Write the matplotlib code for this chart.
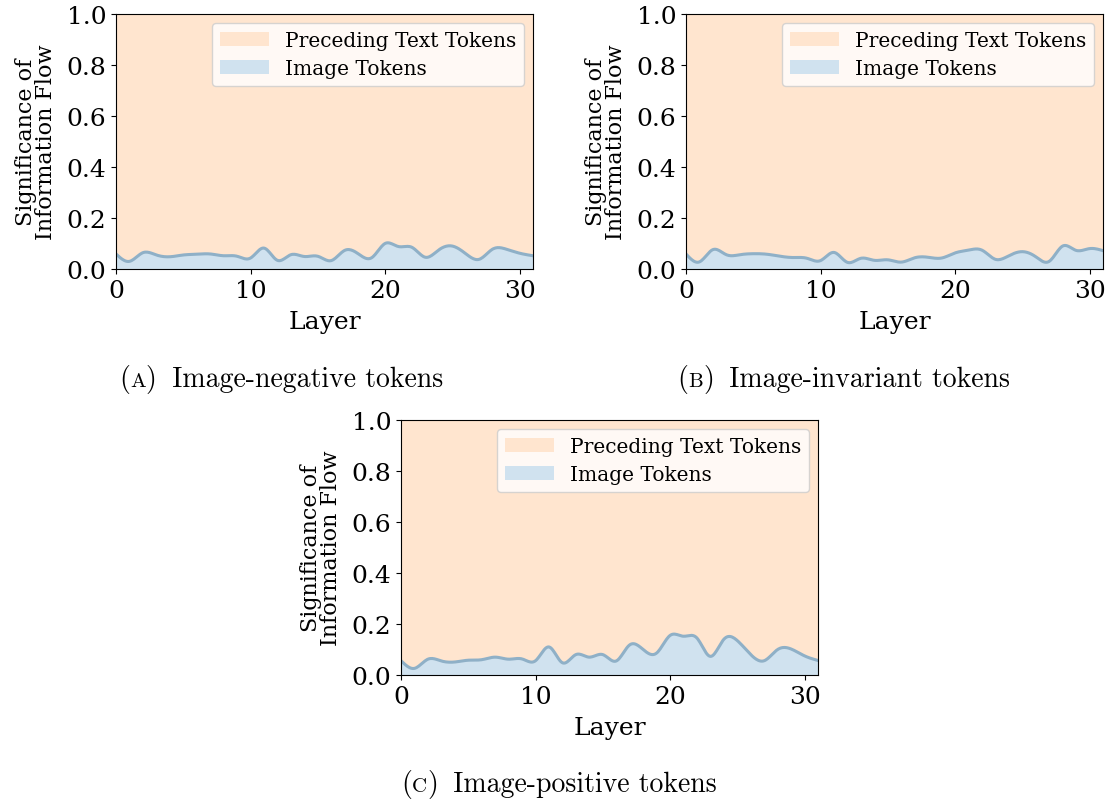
import numpy as np
import matplotlib
matplotlib.use("Agg")
import matplotlib.pyplot as plt
from matplotlib.patches import Patch
from matplotlib.offsetbox import TextArea, HPacker, AnchoredOffsetbox

# Share of information flow coming from image tokens, per layer (0..31)
layers = np.arange(32)
image_negative = [0.059, 0.030, 0.064, 0.055, 0.048, 0.055, 0.058, 0.059,
                  0.052, 0.050, 0.043, 0.082, 0.034, 0.056, 0.049, 0.050,
                  0.033, 0.073, 0.060, 0.044, 0.100, 0.088, 0.085, 0.046,
                  0.075, 0.090, 0.060, 0.038, 0.078, 0.078, 0.062, 0.052]
image_invariant = [0.059, 0.028, 0.076, 0.056, 0.056, 0.060, 0.058, 0.050,
                   0.045, 0.042, 0.033, 0.065, 0.026, 0.042, 0.034, 0.036,
                   0.027, 0.044, 0.046, 0.043, 0.063, 0.074, 0.074, 0.038,
                   0.052, 0.068, 0.048, 0.030, 0.090, 0.073, 0.080, 0.072]
image_positive = [0.056, 0.026, 0.062, 0.055, 0.051, 0.058, 0.060, 0.070,
                  0.062, 0.063, 0.056, 0.110, 0.048, 0.080, 0.070, 0.080,
                  0.055, 0.118, 0.100, 0.086, 0.155, 0.152, 0.145, 0.073,
                  0.140, 0.135, 0.080, 0.056, 0.100, 0.102, 0.075, 0.057]

series_names = ["Preceding Text Tokens", "Image Tokens"]
captions = [("A", "Image-negative tokens"),
            ("B", "Image-invariant tokens"),
            ("C", "Image-positive tokens")]
y_ticks = [0.0, 0.2, 0.4, 0.6, 0.8, 1.0]
x_ticks = [0, 10, 20, 30]

TEXT_FILL = "#ffe5cf"
IMAGE_FILL = "#d0e2ef"
EDGE = "#8fb0c7"


def natural_spline(x, y, xs):
    """Natural cubic spline through (x, y) evaluated at xs."""
    x = np.asarray(x, float)
    y = np.asarray(y, float)
    n = len(x)
    h = np.diff(x)
    A = np.zeros((n, n))
    b = np.zeros(n)
    A[0, 0] = A[-1, -1] = 1.0
    for i in range(1, n - 1):
        A[i, i - 1] = h[i - 1]
        A[i, i] = 2 * (h[i - 1] + h[i])
        A[i, i + 1] = h[i]
        b[i] = 3 * ((y[i + 1] - y[i]) / h[i] - (y[i] - y[i - 1]) / h[i - 1])
    c = np.linalg.solve(A, b)
    bcoef = (y[1:] - y[:-1]) / h - h * (2 * c[:-1] + c[1:]) / 3
    d = (c[1:] - c[:-1]) / (3 * h)
    idx = np.clip(np.searchsorted(x, xs) - 1, 0, n - 2)
    dx = xs - x[idx]
    return y[idx] + bcoef[idx] * dx + c[idx] * dx ** 2 + d[idx] * dx ** 3


plt.rcParams["font.family"] = "DejaVu Serif"

fig = plt.figure(figsize=(11.16, 8.03), dpi=100)

W, H = 1116, 803
boxes = [(116, 15), (686, 15), (401, 421)]  # (left, top) in pixels
aw, ah = 417, 255
caption_pos = [(281, 380), (844, 380), (559, 785)]

for (left, top), values, (tag, caption), (cx, cy) in zip(
        boxes, [image_negative, image_invariant, image_positive],
        captions, caption_pos):
    ax = fig.add_axes([left / W, 1 - (top + ah) / H, aw / W, ah / H])
    xs = np.linspace(layers[0], layers[-1], 400)
    ys = natural_spline(layers, values, xs)
    ax.fill_between(xs, ys, 1.0, color=TEXT_FILL, lw=0)
    ax.fill_between(xs, 0, ys, color=IMAGE_FILL, lw=0)
    ax.plot(xs, ys, color=EDGE, lw=2.2)
    ax.set_xlim(0, 31)
    ax.set_ylim(0, 1)
    ax.set_xticks(x_ticks)
    ax.set_yticks(y_ticks)
    ax.set_yticklabels([f"{t:.1f}" for t in y_ticks])
    ax.tick_params(labelsize=18)
    ax.set_xlabel("Layer", fontsize=18, labelpad=6)
    ax.set_ylabel("Significance of\nInformation Flow", fontsize=16,
                  linespacing=0.9, labelpad=7)
    handles = [Patch(facecolor=TEXT_FILL, edgecolor="none"),
               Patch(facecolor=IMAGE_FILL, edgecolor="none")]
    ax.legend(handles, series_names, loc="upper right", fontsize=14.5,
              framealpha=0.8, borderaxespad=0.45, handlelength=2.4,
              labelspacing=0.45)

    # Caption with a small-caps panel letter
    parts = [TextArea("(", textprops=dict(family="cmr10", size=20)),
             TextArea(tag, textprops=dict(family="cmr10", size=15)),
             TextArea(")", textprops=dict(family="cmr10", size=20)),
             TextArea(" ", textprops=dict(family="cmr10", size=13)),
             TextArea(" " + caption, textprops=dict(family="cmr10", size=20))]
    pack = HPacker(children=parts, align="baseline", pad=0, sep=0)
    anchored = AnchoredOffsetbox(loc="center", child=pack, frameon=False,
                                 bbox_to_anchor=(cx / W, 1 - cy / H),
                                 bbox_transform=fig.transFigure, pad=0,
                                 borderpad=0)
    fig.add_artist(anchored)

fig.savefig("out.png", dpi=100)
